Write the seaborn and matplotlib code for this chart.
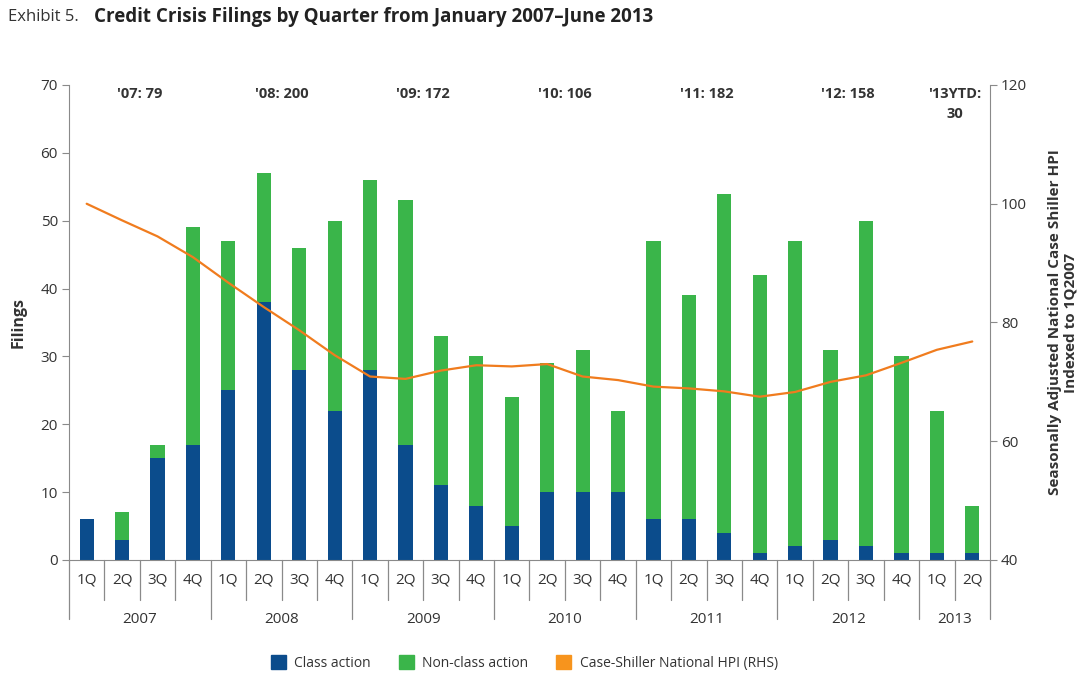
import numpy as np
import pandas as pd
import matplotlib.pyplot as plt
import matplotlib.patches as mpatches
import seaborn as sns

# Data
years = ["2007", "2008", "2009", "2010", "2011", "2012", "2013"]
quarters = ["1Q", "2Q", "3Q", "4Q"] * 6 + ["1Q", "2Q"]
total_filings = [6, 7, 17, 49,
                 47, 57, 46, 50,
                 56, 53, 33, 30,
                 24, 29, 31, 22,
                 47, 39, 54, 42,
                 47, 31, 50, 30,
                 22, 8]
class_action = [6, 3, 15, 17,
                25, 38, 28, 22,
                28, 17, 11, 8,
                5, 10, 10, 10,
                6, 6, 4, 1,
                2, 3, 2, 1,
                1, 1]
hpi = [100.0, 97.2, 94.5, 91.0,
       86.7, 82.6, 78.7, 74.5,
       70.9, 70.5, 71.9, 72.8,
       72.6, 73.0, 70.9, 70.3,
       69.2, 68.9, 68.4, 67.5,
       68.3, 70.0, 71.1, 73.2,
       75.4, 76.8]
year_totals = ["'07: 79", "'08: 200", "'09: 172", "'10: 106",
               "'11: 182", "'12: 158", "'13YTD:\n30"]

navy = "#0B4C8C"
green = "#3AB54A"
orange = "#F07C1E"
grey = "#8A8A8A"
txt = "#333333"

labels = [f"{y} {q}" for y, n in zip(years, [4] * 6 + [2]) for q in ["1Q", "2Q", "3Q", "4Q"][:n]]
df = pd.DataFrame({"period": labels, "total": total_filings,
                   "class": class_action, "hpi": hpi, "pos": np.arange(len(labels))})

sns.set_style("white")
plt.rcParams['font.family'] = ['Open Sans', 'DejaVu Sans']

fig = plt.figure(figsize=(10.81, 6.8), dpi=100)
ax = fig.add_axes([0.0638, 0.1765, 0.852, 0.6985])

# stacked bars: total (green) behind, class action (navy) on top
sns.barplot(data=df, x="period", y="total", color=green, width=0.4,
            saturation=1, linewidth=0, ax=ax, order=labels)
sns.barplot(data=df, x="period", y="class", color=navy, width=0.4,
            saturation=1, linewidth=0, ax=ax, order=labels)

ax.set_xlim(-0.5, len(labels) - 0.5)
ax.set_ylim(0, 70)
ax.set_yticks(range(0, 71, 10))
ax.set_xticks([])
ax.set_xlabel("")
ax.set_ylabel("Filings", fontsize=11.5, fontweight="bold", color=txt, labelpad=10)
ax.tick_params(axis="y", direction="out", length=5, color=grey, labelsize=11,
               labelcolor=txt, left=True, pad=3)
for s in ["top", "right"]:
    ax.spines[s].set_visible(False)
ax.spines["left"].set_color(grey)
ax.spines["bottom"].set_color(grey)

# HPI line on right axis
ax2 = ax.twinx()
sns.lineplot(data=df, x="pos", y="hpi", color=orange, linewidth=1.6, ax=ax2)
ax2.set_ylim(40, 120)
ax2.set_yticks(range(40, 121, 20))
ax2.set_xlim(-0.5, len(labels) - 0.5)
ax2.set_xlabel("")
ax2.set_ylabel("Seasonally Adjusted National Case Shiller HPI\nIndexed to 1Q2007",
               fontsize=11, fontweight="bold", color=txt, labelpad=15,
               linespacing=1.1)
ax2.tick_params(axis="y", direction="out", length=5, color=grey, labelsize=11,
                labelcolor=txt, right=True, pad=3)
for s in ["top", "left", "bottom"]:
    ax2.spines[s].set_visible(False)
ax2.spines["right"].set_color(grey)

# category axis: quarter labels, separators and years
trans = ax.get_xaxis_transform()
for i, q in enumerate(quarters):
    ax.text(i, -0.042, q, transform=trans, ha="center", va="center",
            fontsize=11, color=txt)
year_starts = [0, 4, 8, 12, 16, 20, 24, 26]
for i in range(len(labels) + 1):
    bottom = -0.124 if i in year_starts else -0.084
    ax.plot([i - 0.5, i - 0.5], [0, bottom], transform=trans, color=grey,
            linewidth=0.9, clip_on=False)
for k, y in enumerate(years):
    mid = (year_starts[k] + year_starts[k + 1] - 1) / 2
    ax.text(mid, -0.125, y, transform=trans, ha="center", va="center",
            fontsize=11, color=txt)
    ax.text(mid, 0.995, year_totals[k], transform=trans, ha="center", va="top",
            fontsize=10.5, fontweight="bold", color=txt, linespacing=1.5)

# title
fig.text(0.007, 0.975, "Exhibit 5.", fontsize=12, color=txt, va="center")
fig.text(0.087, 0.975, "Credit Crisis Filings by Quarter from January 2007\u2013June 2013",
         fontsize=13.5, fontweight="bold", color="#222222", va="center")

# legend
handles = [mpatches.Patch(color=navy, label="Class action"),
           mpatches.Patch(color=green, label="Non-class action"),
           mpatches.Patch(color="#F7941D", label="Case-Shiller National HPI (RHS)")]
fig.legend(handles=handles, loc="center", bbox_to_anchor=(0.485, 0.025), ncol=3,
           frameon=False, fontsize=10, handlelength=1.1, handleheight=1.1,
           columnspacing=2.0, handletextpad=0.6, labelcolor=txt)

fig.savefig("out.png", dpi=100)
